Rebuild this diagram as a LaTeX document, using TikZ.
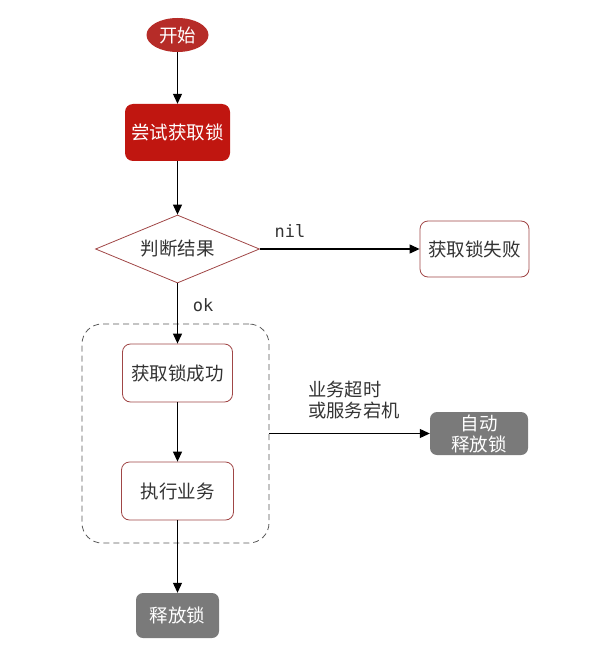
\documentclass[tikz,border=0pt]{standalone}
\usepackage{fontspec}
\setmainfont{Noto Sans CJK SC}
\newfontfamily\codefont{DejaVu Sans Mono}
\usetikzlibrary{shapes.geometric,arrows.meta}
\definecolor{startred}{RGB}{182,44,40}
\definecolor{boxred}{RGB}{192,22,16}
\definecolor{edgered}{RGB}{160,70,70}
\definecolor{boxgray}{RGB}{122,122,122}
\definecolor{txt}{RGB}{51,51,51}
\tikzset{
  conn/.style={draw=black, line width=1.1pt, -{Triangle[length=10pt,width=9pt]}},
  plainbox/.style={draw=edgered, line width=0.8pt, fill=white, rounded corners=8pt, inner sep=0pt, text=txt, font=\fontsize{18.5}{21}\selectfont},
  graybox/.style={fill=boxgray, rounded corners=7pt, inner sep=0pt, text=white, font=\fontsize{18.5}{21}\selectfont},
  lbl/.style={text=txt, inner sep=0pt},
}
\begin{document}
\begin{tikzpicture}[x=1pt,y=-1pt]
\useasboundingbox (0,0) rectangle (606,655);
\node[ellipse, fill=startred, minimum width=62pt, minimum height=34pt, inner sep=0pt, text=white, font=\fontsize{18.5}{21}\selectfont] (start) at (177.5,35) {开始};
\node[fill=boxred, rounded corners=8pt, minimum width=105pt, minimum height=57pt, inner sep=0pt, text=white, font=\fontsize{18.5}{21}\selectfont] (try) at (177.5,132.5) {尝试获取锁};
\node[diamond, aspect=2.4, draw=edgered, line width=0.8pt, minimum width=164pt, minimum height=68pt, inner sep=0pt, text=txt, font=\fontsize{18.5}{21}\selectfont] (judge) at (177.5,249) {判断结果};
\node[plainbox, minimum width=109pt, minimum height=56pt] (fail) at (474.5,249) {获取锁失败};
\node[draw=black!65, dash pattern=on 6pt off 4pt, line width=0.8pt, rounded corners=20pt, minimum width=187pt, minimum height=219pt, inner sep=0pt] (grp) at (175.5,433.5) {};
\node[plainbox, minimum width=110pt, minimum height=58pt] (succ) at (177.5,373) {获取锁成功};
\node[plainbox, minimum width=112pt, minimum height=58pt] (exec) at (177.5,491) {执行业务};
\node[graybox, minimum width=83pt, minimum height=45pt] (rel) at (177.5,615.5) {释放锁};
\node[graybox, minimum width=98pt, minimum height=43pt, align=center, font=\fontsize{18.5}{21}\selectfont] (auto) at (479,433.5) {自动\\释放锁};
\draw[conn] (start) -- (try);
\draw[conn] (try) -- (judge);
\draw[conn] (judge.east) -- (fail.west);
\draw[conn] (judge.south) -- (succ.north);
\draw[conn] (succ) -- (exec);
\draw[conn] (exec) -- (rel);
\draw[conn] (grp.east) -- (auto.west);
\node[lbl, font=\codefont\fontsize{17}{20}\selectfont] (nil) at (290,231) {nil};
\node[lbl, font=\codefont\fontsize{17}{20}\selectfont] (ok) at (203,305) {ok};
\node[lbl, anchor=west, align=left, font=\fontsize{18.3}{21}\selectfont] (why) at (308,400) {业务超时\\或服务宕机};
\end{tikzpicture}
\end{document}
